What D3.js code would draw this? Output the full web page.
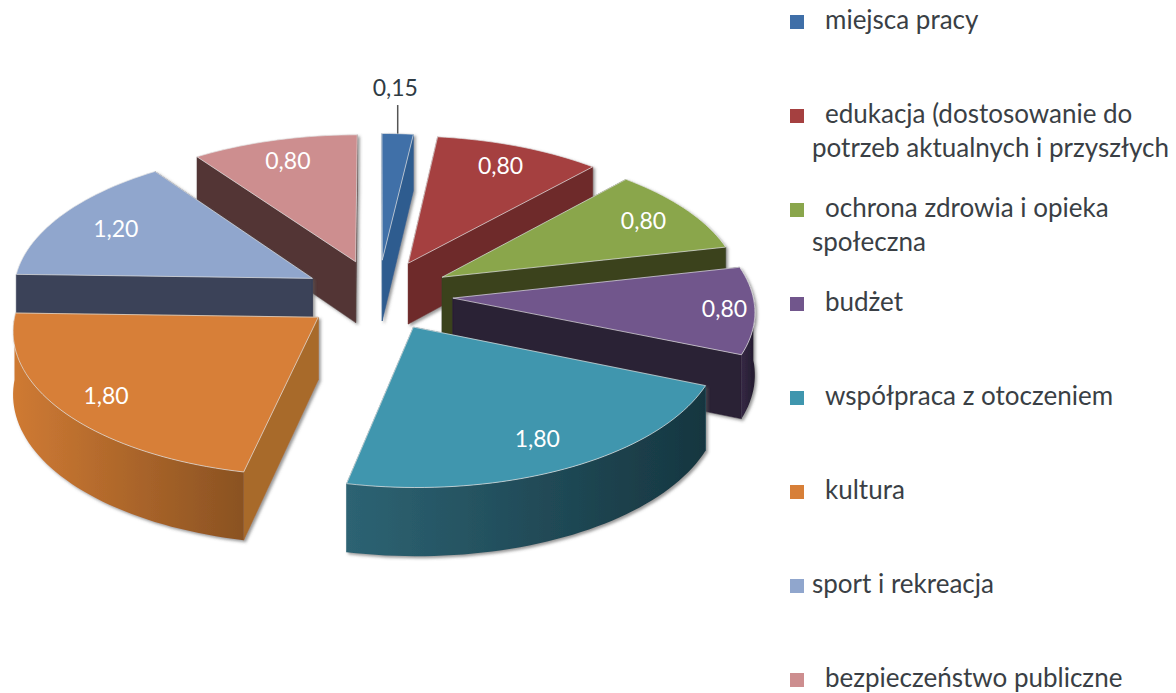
<!DOCTYPE html>
<html>
<head>
<meta charset="utf-8">
<script src="https://cdn.jsdelivr.net/npm/d3@7"></script>
<style>
html, body { margin: 0; background: #fff; }
text { font-family: Lato, "Open Sans", sans-serif; }
</style>
</head>
<body>
<svg class="d3" width="1176" height="693"></svg>
<script>
const categories = ["miejsca pracy", "edukacja", "ochrona zdrowia", "budżet", "współpraca z otoczeniem", "kultura", "sport i rekreacja", "bezpieczeństwo publiczne"]
const values = [0.15, 0.8, 0.8, 0.8, 1.8, 1.8, 1.2, 0.8]
const valueLabels = ["0,15", "0,80", "0,80", "0,80", "1,80", "1,80", "1,20", "0,80"]
const legendLines = [
    ["miejsca pracy"],
    ["edukacja (dostosowanie do", "potrzeb aktualnych i przyszłych"],
    ["ochrona zdrowia i opieka", "społeczna"],
    ["budżet"],
    ["współpraca z otoczeniem"],
    ["kultura"],
    ["sport i rekreacja"],
    ["bezpieczeństwo publiczne"],
]
const topColors = ["#3f6fa8", "#a54040", "#8aa64c", "#71568c", "#3f96ae", "#d77f38", "#90a6cd", "#cd8e8f"]
const wallColors = ["#2f5c8f", "#6e2b2b", "#3b431e", "#2b2036", "#2b6170", "#a86a2c", "#3a4258", "#523635"]
const arcLeft = ["#2f5c8f", "#6e2b2b", "#3b431e", "#352945", "#2d6373", "#cf7a33", "#3a4258", "#523635"]
const arcRight = ["#2f5c8f", "#6e2b2b", "#3b431e", "#241b2e", "#163640", "#8a5222", "#3a4258", "#523635"]
const labelFrac = [1.4, 0.82, 0.82, 0.9, 0.81, 0.84, 0.78, 0.82]

const width = 1176
const height = 693
const cx = 378
const cy = 295
const radius = 300
const tilt = 0.474
const persp = 0.08
const explode = 0.25
const depth = 62

const svg = d3.select("svg.d3").attr("viewBox", [0, 0, width, height])
const defs = svg.append("defs")

defs.append("filter").attr("id", "shadow")
    .attr("x", "-10%").attr("y", "-10%").attr("width", "125%").attr("height", "125%")
    .append("feDropShadow")
    .attr("dx", 2).attr("dy", 2).attr("stdDeviation", 1.5)
    .attr("flood-color", "#555").attr("flood-opacity", 0.6)

// ground coords -> screen, far side is a bit smaller
function project(u, v, down) {
    const s = 1 / (1 + persp * v)
    return [cx + u * radius * s, cy - v * radius * tilt * s + down * depth * s]
}

const arcs = d3.pie().sort(null).value(d => d)
    .startAngle(0).endAngle(2 * Math.PI)(values)
    .map((a, i) => {
        const mid = (a.startAngle + a.endAngle) / 2
        return {
            i,
            a0: a.startAngle,
            a1: a.endAngle,
            mid,
            ax: explode * Math.sin(mid),
            ay: explode * Math.cos(mid),
        }
    })

const line = d3.line()

function rim(d, a) {
    return [d.ax + Math.sin(a), d.ay + Math.cos(a)]
}

function rimPoints(d, from, to, down) {
    const n = Math.max(2, Math.ceil((to - from) / 0.03))
    return d3.range(n + 1).map(k => {
        const p = rim(d, from + (to - from) * k / n)
        return project(p[0], p[1], down)
    })
}

function radialWall(d, a) {
    const p = rim(d, a)
    return [
        project(d.ax, d.ay, 0),
        project(p[0], p[1], 0),
        project(p[0], p[1], 1),
        project(d.ax, d.ay, 1),
    ]
}

const order = arcs.slice().sort((a, b) => d3.descending(a.ay, b.ay))

const slice = svg.append("g").selectAll("g")
    .data(order)
    .join("g")
    .attr("filter", "url(#shadow)")

slice.each(function (d) {
    const g = d3.select(this)
    const walls = [
        { pts: radialWall(d, d.a0), visible: Math.sin(d.a0) < 0 },
        { pts: radialWall(d, d.a1), visible: Math.sin(d.a1) > 0 },
    ].sort((a, b) => d3.ascending(a.visible, b.visible))

    walls.forEach(w => {
        g.append("path")
            .attr("d", line(w.pts) + "Z")
            .attr("fill", wallColors[d.i])
            .attr("stroke", wallColors[d.i])
            .attr("stroke-width", 0.5)
    })

    // outer wall only on the side that faces us
    const from = Math.max(d.a0, Math.PI / 2)
    const to = Math.min(d.a1, 3 * Math.PI / 2)
    if (to > from) {
        const upper = rimPoints(d, from, to, 0)
        const lower = rimPoints(d, from, to, 1).reverse()
        const xs = upper.map(p => p[0])
        const gid = "wall" + d.i
        const grad = defs.append("linearGradient").attr("id", gid)
            .attr("gradientUnits", "userSpaceOnUse")
            .attr("x1", d3.min(xs)).attr("x2", d3.max(xs))
            .attr("y1", 0).attr("y2", 0)
        grad.append("stop").attr("offset", 0).attr("stop-color", arcLeft[d.i])
        grad.append("stop").attr("offset", 1).attr("stop-color", arcRight[d.i])
        g.append("path")
            .attr("d", line(upper.concat(lower)) + "Z")
            .attr("fill", `url(#${gid})`)
    }

    const top = [project(d.ax, d.ay, 0)].concat(rimPoints(d, d.a0, d.a1, 0))
    g.append("path")
        .attr("d", line(top) + "Z")
        .attr("fill", topColors[d.i])
        .attr("stroke", "#e4e4e4")
        .attr("stroke-opacity", 0.7)
        .attr("stroke-width", 1)
})

// value labels, the tiny slice gets its label outside with a leader
arcs.forEach(d => {
    const f = labelFrac[d.i]
    const pos = project(d.ax + f * Math.sin(d.mid), d.ay + f * Math.cos(d.mid), 0)
    if (d.i === 0) {
        const edge = project(d.ax + Math.sin(d.mid), d.ay + Math.cos(d.mid), 0)
        svg.append("line")
            .attr("x1", edge[0]).attr("x2", edge[0])
            .attr("y1", edge[1]).attr("y2", pos[1] + 17)
            .attr("stroke", "#555").attr("stroke-width", 1.5)
    }
    svg.append("text")
        .attr("x", d.i === 0 ? pos[0] - 8 : pos[0]).attr("y", pos[1])
        .attr("dy", "0.35em")
        .attr("text-anchor", "middle")
        .attr("font-size", 23)
        .attr("fill", d.i === 0 ? "#2f3b44" : "#fff")
        .text(valueLabels[d.i])
})

// legend
const legendY = d3.scalePoint().domain(categories).range([22, 680])
const legend = svg.append("g").selectAll("g")
    .data(categories)
    .join("g")
    .attr("transform", d => `translate(0,${legendY(d)})`)

legend.append("rect")
    .attr("x", 790).attr("y", -7)
    .attr("width", 14).attr("height", 14)
    .attr("fill", (d, i) => topColors[i])

legend.each(function (d, i) {
    const g = d3.select(this)
    legendLines[i].forEach((t, k) => {
        g.append("text")
            .attr("x", k === 0 && i !== 6 ? 825 : 812)
            .attr("y", k * 34)
            .attr("dy", "0.27em")
            .attr("font-size", 26)
            .attr("fill", "#3a3f45")
            .text(t)
    })
})
</script>
</body>
</html>
